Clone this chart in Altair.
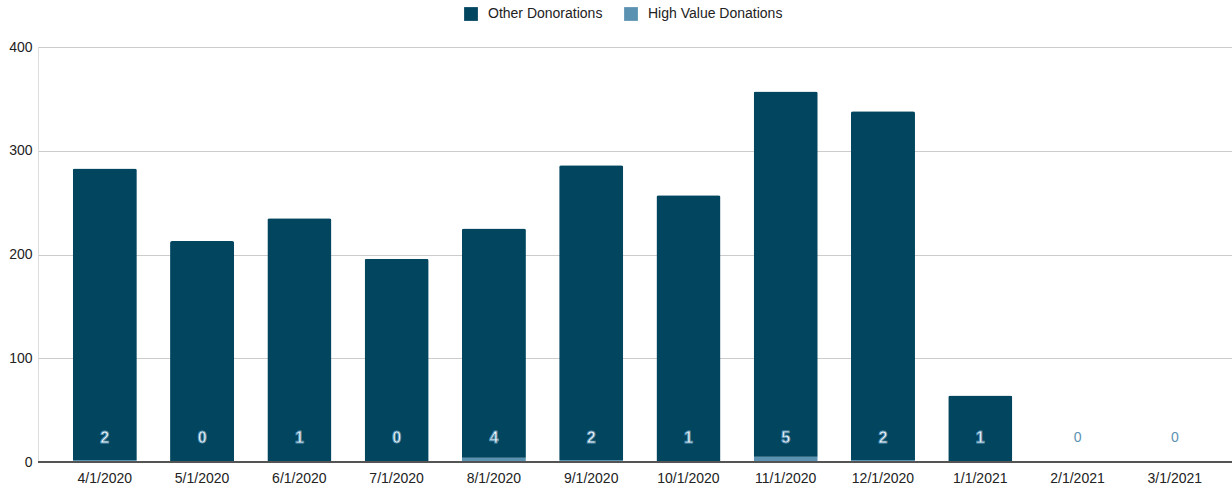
import altair as alt
import pandas as pd

months = ["4/1/2020", "5/1/2020", "6/1/2020", "7/1/2020", "8/1/2020", "9/1/2020",
          "10/1/2020", "11/1/2020", "12/1/2020", "1/1/2021", "2/1/2021", "3/1/2021"]
other = [281, 213, 234, 196, 221, 284, 256, 352, 336, 63, 0, 0]
high = [2, 0, 1, 0, 4, 2, 1, 5, 2, 1, 0, 0]

DARK = "#01455F"
LIGHT = "#5B92B2"
FONT = "Liberation Sans"

rows = []
for i, m in enumerate(months):
    rows.append({"month": m, "series": "High Value Donations", "value": high[i], "ord": 0})
    rows.append({"month": m, "series": "Other Donorations", "value": other[i], "ord": 1})
df = pd.DataFrame(rows)

lab = pd.DataFrame({
    "month": months,
    "high": high,
    "zero": [0] * len(months),
    "inside": [o + h > 0 for o, h in zip(other, high)],
})

xscale = alt.Scale(paddingInner=0.342, paddingOuter=0.3085, align=0.58)

xenc = alt.X("month:N", sort=months, title=None, scale=xscale,
             axis=alt.Axis(labelAngle=0, labelFontSize=14, labelColor="#222222",
                           labelFont=FONT, ticks=False, domainColor="#555555",
                           labelPadding=9, grid=False))

bars = alt.Chart(df).mark_bar(cornerRadiusTopLeft=2, cornerRadiusTopRight=2).encode(
    x=xenc,
    y=alt.Y("value:Q", stack="zero", title=None,
            scale=alt.Scale(domain=[0, 400], nice=False),
            axis=alt.Axis(values=[0, 100, 200, 300, 400], labelFontSize=14,
                          labelColor="#222222", labelFont=FONT, ticks=False,
                          domain=False, gridColor="#CCCCCC", labelPadding=6)),
    color=alt.Color("series:N",
                    scale=alt.Scale(domain=["Other Donorations", "High Value Donations"],
                                    range=[DARK, LIGHT]),
                    legend=alt.Legend(title=None, orient="none", direction="horizontal",
                                      legendX=426, legendY=-40, symbolType="square",
                                      symbolSize=190, symbolStrokeWidth=0,
                                      labelFontSize=14, labelFont=FONT,
                                      labelColor="#222222", columnPadding=21,
                                      symbolOffset=0, labelOffset=10)),
    order=alt.Order("ord:Q", sort="ascending"),
)

baseline = alt.Chart(lab).mark_rule(color="#555555", strokeWidth=1).encode(
    y=alt.Y("zero:Q"),
)

txt_in = alt.Chart(lab).transform_filter("datum.inside").mark_text(
    fontSize=16, fontWeight="bold", font=FONT, color="white",
    stroke=LIGHT, strokeWidth=0.9, baseline="middle", dy=-24
).encode(
    x=alt.X("month:N", sort=months, scale=xscale),
    y=alt.Y("zero:Q"),
    text=alt.Text("high:Q"),
)

txt_out = alt.Chart(lab).transform_filter("!datum.inside").mark_text(
    fontSize=14, font=FONT, color=LIGHT, baseline="middle", dy=-24
).encode(
    x=alt.X("month:N", sort=months, scale=xscale),
    y=alt.Y("zero:Q"),
    text=alt.Text("high:Q"),
)

chart = alt.layer(bars, baseline, txt_in, txt_out).properties(
    width=1194, height=415,
    autosize=alt.AutoSizeParams(type="none"),
    padding={"left": 38, "top": 47, "right": 0, "bottom": 26},
).configure_view(stroke=None).configure(background="white")

chart.save("out.html", embed_options={"renderer": "svg", "actions": False})
